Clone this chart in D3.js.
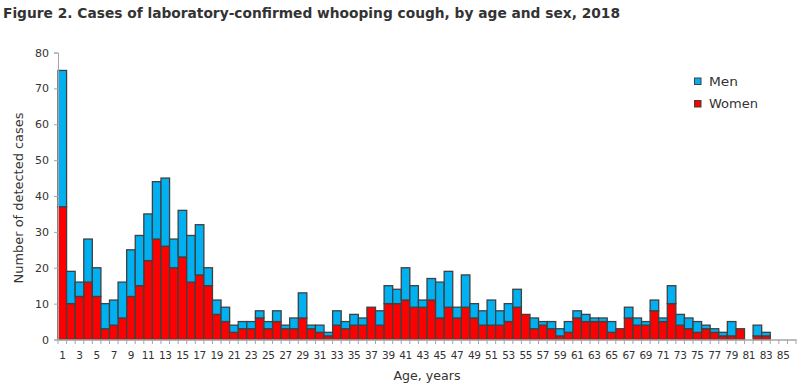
<!DOCTYPE html>
<html><head><meta charset="utf-8">
<script src="https://cdn.jsdelivr.net/npm/d3@7"></script>
<style>body{margin:0;background:#fff}svg{display:block;font-family:"DejaVu Sans",sans-serif}</style>
</head><body><svg id="c" width="800" height="391"></svg>
<script>
const ages = d3.range(1, 87);
const women = [37,10,12,16,12,3,4,6,12,15,22,28,26,20,23,16,18,15,7,5,
  2,3,3,6,3,5,3,3,6,3,2,1,4,3,4,4,9,4,10,10,
  11,9,9,11,6,9,6,9,6,4,4,4,5,9,7,3,4,3,1,2,
  6,5,5,5,2,3,6,4,4,8,5,10,4,3,2,3,2,1,1,3,
  0,1,1,0,0,0];
const totals = [75,19,16,28,20,10,11,16,25,29,35,44,45,28,36,29,32,20,11,9,
  4,5,5,8,5,8,4,6,13,4,4,2,8,5,7,6,9,8,15,14,
  20,15,11,17,16,19,9,18,10,8,11,8,10,14,7,6,5,5,3,5,
  8,7,6,6,5,3,9,6,5,11,6,15,7,6,5,4,3,2,5,3,
  0,4,2,0,0,0];
const men = totals.map((t,i)=>t-women[i]);
const yTicks = [0,10,20,30,40,50,60,70,80];
const xLabels = ages.filter(a=>a%2===1);
const seriesNames = ["Men","Women"];
const colors = {Men:"#00B0F0", Women:"#FF0000"};

const svg = d3.select("#c");
const x = d3.scaleBand().domain(ages).range([58, 796]).padding(0);
const y = d3.scaleLinear().domain([0,80]).range([339.5, 52.5]);

svg.append("text").attr("x",3).attr("y",17.5).attr("font-size",14.5).attr("font-weight","bold")
  .attr("fill","#333").attr("textLength",617).attr("lengthAdjust","spacingAndGlyphs")
  .text("Figure 2. Cases of laboratory-confirmed whooping cough, by age and sex, 2018");

const rows = ages.map((a,i)=>({age:a, Women:women[i], Men:men[i]}));
const stack = d3.stack().keys(["Women","Men"])(rows);
const g = svg.append("g");
stack.forEach(layer=>{
  g.append("g").attr("fill",colors[layer.key]).selectAll("rect")
   .data(layer.filter(d=>d[1]-d[0]>0)).join("rect")
   .attr("x",d=>x(d.data.age)).attr("width",x.bandwidth())
   .attr("y",d=>y(d[1])).attr("height",d=>y(d[0])-y(d[1]))
   .attr("stroke","#404040").attr("stroke-width",1.3);
});

// y axis
const ya = svg.append("g").attr("transform","translate(58,0)")
  .call(d3.axisLeft(y).tickValues(yTicks).tickSize(4).tickPadding(5));
ya.select(".domain").attr("stroke","#a6a6a6");
ya.selectAll(".tick line").attr("stroke","#a6a6a6");
ya.selectAll("text").attr("font-size",11).attr("fill","#333").attr("font-family","DejaVu Sans,sans-serif");

// x axis
const xa = svg.append("g").attr("transform","translate(0,339.5)")
  .call(d3.axisBottom(x).tickValues(xLabels).tickSize(0).tickPadding(12));
xa.select(".domain").attr("stroke","#a6a6a6").attr("stroke-width",1.5);
xa.selectAll("text").attr("font-size",10.5).attr("fill","#333").attr("font-family","DejaVu Sans,sans-serif")
  .attr("letter-spacing",-0.4);
// boundary ticks
svg.append("g").selectAll("line").data(ages.concat([87])).join("line")
  .attr("x1",a=> a===87 ? x(86)+x.bandwidth() : x(a)).attr("x2",a=> a===87 ? x(86)+x.bandwidth() : x(a))
  .attr("y1",339.5).attr("y2",344).attr("stroke","#a6a6a6");

svg.append("text").attr("x",427).attr("y",380).attr("text-anchor","middle").attr("font-size",12.5)
  .attr("fill","#333").attr("textLength",67).attr("lengthAdjust","spacingAndGlyphs").text("Age, years");
svg.append("text").attr("transform","translate(23,198) rotate(-90)").attr("text-anchor","middle")
  .attr("font-size",12.5).attr("fill","#333").attr("textLength",171).attr("lengthAdjust","spacingAndGlyphs")
  .text("Number of detected cases");

// legend
const lg = svg.append("g");
seriesNames.forEach((n,i)=>{
  lg.append("rect").attr("x",694.5).attr("y",78+i*22.5).attr("width",6.5).attr("height",6.5)
    .attr("fill",colors[n]).attr("stroke","#404040").attr("stroke-width",1);
  lg.append("text").attr("x",709).attr("y",86+i*22).attr("font-size",13).attr("fill","#333")
    .attr("textLength", n==="Men"?29:49).attr("lengthAdjust","spacingAndGlyphs").text(n);
});
</script></body></html>
